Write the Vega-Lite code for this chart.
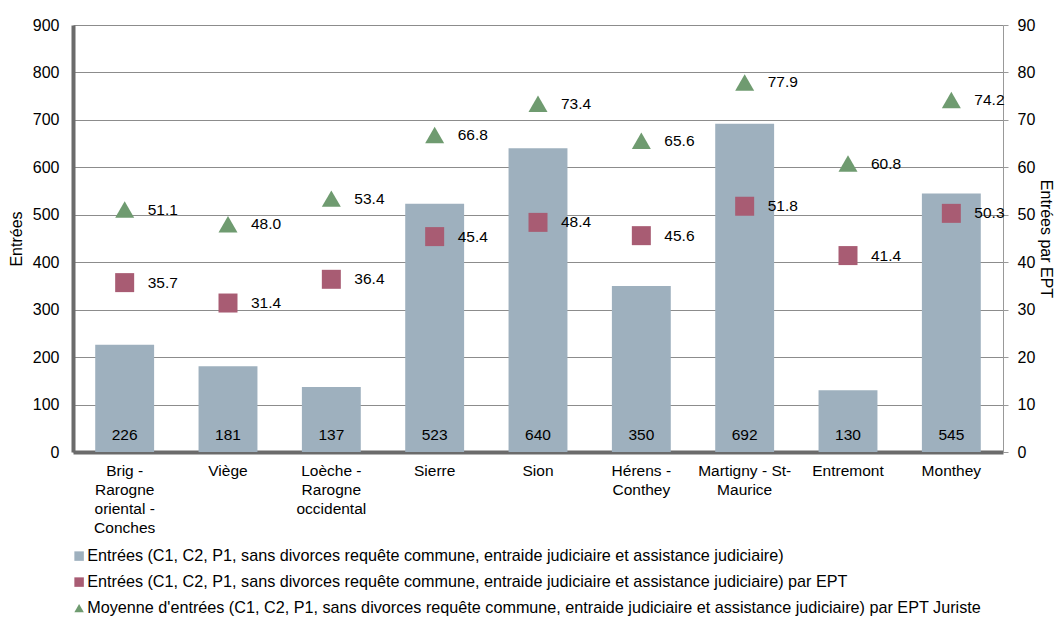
{
  "$schema": "https://vega.github.io/schema/vega-lite/v6.json",
  "width": 930,
  "height": 427,
  "autosize": {"type": "none"},
  "padding": {"left": 73, "top": 25, "right": 53, "bottom": 165},
  "background": "white",
  "config": {
    "font": "Liberation Sans",
    "view": {"stroke": null},
    "axis": {"labelFont": "Liberation Sans", "labelFontSize": 16, "labelColor": "#000000", "titleFont": "Liberation Sans", "titleFontSize": 16, "titleFontWeight": "normal", "titleColor": "#000000"},
    "legend": {"labelFont": "Liberation Sans", "labelFontSize": 16.2, "labelColor": "#000000"}
  },
  "data": {
    "values": [
      {"region": "Brig - Rarogne oriental - Conches", "series": "Entrées (C1, C2, P1, sans divorces requête commune, entraide judiciaire et assistance judiciaire)", "value": 226},
      {"region": "Viège", "series": "Entrées (C1, C2, P1, sans divorces requête commune, entraide judiciaire et assistance judiciaire)", "value": 181},
      {"region": "Loèche - Rarogne occidental", "series": "Entrées (C1, C2, P1, sans divorces requête commune, entraide judiciaire et assistance judiciaire)", "value": 137},
      {"region": "Sierre", "series": "Entrées (C1, C2, P1, sans divorces requête commune, entraide judiciaire et assistance judiciaire)", "value": 523},
      {"region": "Sion", "series": "Entrées (C1, C2, P1, sans divorces requête commune, entraide judiciaire et assistance judiciaire)", "value": 640},
      {"region": "Hérens - Conthey", "series": "Entrées (C1, C2, P1, sans divorces requête commune, entraide judiciaire et assistance judiciaire)", "value": 350},
      {"region": "Martigny - St-Maurice", "series": "Entrées (C1, C2, P1, sans divorces requête commune, entraide judiciaire et assistance judiciaire)", "value": 692},
      {"region": "Entremont", "series": "Entrées (C1, C2, P1, sans divorces requête commune, entraide judiciaire et assistance judiciaire)", "value": 130},
      {"region": "Monthey", "series": "Entrées (C1, C2, P1, sans divorces requête commune, entraide judiciaire et assistance judiciaire)", "value": 545},
      {"region": "Brig - Rarogne oriental - Conches", "series": "Entrées (C1, C2, P1, sans divorces requête commune, entraide judiciaire et assistance judiciaire) par EPT", "value": 35.7},
      {"region": "Viège", "series": "Entrées (C1, C2, P1, sans divorces requête commune, entraide judiciaire et assistance judiciaire) par EPT", "value": 31.4},
      {"region": "Loèche - Rarogne occidental", "series": "Entrées (C1, C2, P1, sans divorces requête commune, entraide judiciaire et assistance judiciaire) par EPT", "value": 36.4},
      {"region": "Sierre", "series": "Entrées (C1, C2, P1, sans divorces requête commune, entraide judiciaire et assistance judiciaire) par EPT", "value": 45.4},
      {"region": "Sion", "series": "Entrées (C1, C2, P1, sans divorces requête commune, entraide judiciaire et assistance judiciaire) par EPT", "value": 48.4},
      {"region": "Hérens - Conthey", "series": "Entrées (C1, C2, P1, sans divorces requête commune, entraide judiciaire et assistance judiciaire) par EPT", "value": 45.6},
      {"region": "Martigny - St-Maurice", "series": "Entrées (C1, C2, P1, sans divorces requête commune, entraide judiciaire et assistance judiciaire) par EPT", "value": 51.8},
      {"region": "Entremont", "series": "Entrées (C1, C2, P1, sans divorces requête commune, entraide judiciaire et assistance judiciaire) par EPT", "value": 41.4},
      {"region": "Monthey", "series": "Entrées (C1, C2, P1, sans divorces requête commune, entraide judiciaire et assistance judiciaire) par EPT", "value": 50.3},
      {"region": "Brig - Rarogne oriental - Conches", "series": "Moyenne d'entrées (C1, C2, P1, sans divorces requête commune, entraide judiciaire et assistance judiciaire) par EPT Juriste", "value": 51.1},
      {"region": "Viège", "series": "Moyenne d'entrées (C1, C2, P1, sans divorces requête commune, entraide judiciaire et assistance judiciaire) par EPT Juriste", "value": 48.0},
      {"region": "Loèche - Rarogne occidental", "series": "Moyenne d'entrées (C1, C2, P1, sans divorces requête commune, entraide judiciaire et assistance judiciaire) par EPT Juriste", "value": 53.4},
      {"region": "Sierre", "series": "Moyenne d'entrées (C1, C2, P1, sans divorces requête commune, entraide judiciaire et assistance judiciaire) par EPT Juriste", "value": 66.8},
      {"region": "Sion", "series": "Moyenne d'entrées (C1, C2, P1, sans divorces requête commune, entraide judiciaire et assistance judiciaire) par EPT Juriste", "value": 73.4},
      {"region": "Hérens - Conthey", "series": "Moyenne d'entrées (C1, C2, P1, sans divorces requête commune, entraide judiciaire et assistance judiciaire) par EPT Juriste", "value": 65.6},
      {"region": "Martigny - St-Maurice", "series": "Moyenne d'entrées (C1, C2, P1, sans divorces requête commune, entraide judiciaire et assistance judiciaire) par EPT Juriste", "value": 77.9},
      {"region": "Entremont", "series": "Moyenne d'entrées (C1, C2, P1, sans divorces requête commune, entraide judiciaire et assistance judiciaire) par EPT Juriste", "value": 60.8},
      {"region": "Monthey", "series": "Moyenne d'entrées (C1, C2, P1, sans divorces requête commune, entraide judiciaire et assistance judiciaire) par EPT Juriste", "value": 74.2}
    ]
  },
  "encoding": {
    "x": {
      "field": "region",
      "type": "nominal",
      "sort": null,
      "scale": {"paddingInner": 0.43, "paddingOuter": 0.215},
      "axis": {
        "title": null,
        "labelAngle": 0,
        "labelFontSize": 15.5,
        "ticks": false,
        "domainColor": "#6b6b6b",
        "domainWidth": 4,
        "labelPadding": 11,
        "labelLineHeight": 19,
        "labelBaseline": "top",
        "labelExpr": "datum.label == 'Brig - Rarogne oriental - Conches' ? ['Brig -', 'Rarogne', 'oriental -', 'Conches'] : datum.label == 'Loèche - Rarogne occidental' ? ['Loèche -', 'Rarogne', 'occidental'] : datum.label == 'Hérens - Conthey' ? ['Hérens -', 'Conthey'] : datum.label == 'Martigny - St-Maurice' ? ['Martigny - St-', 'Maurice'] : datum.label"
      }
    }
  },
  "layer": [
    {
      "transform": [{"filter": "indexof(datum.series, 'par EPT') < 0"}],
      "layer": [
        {
          "mark": {"type": "bar"},
          "encoding": {
            "y": {
              "field": "value",
              "type": "quantitative",
              "scale": {"domain": [0, 900], "nice": false},
              "axis": {
                "title": "Entrées",
                "values": [0, 100, 200, 300, 400, 500, 600, 700, 800, 900],
                "ticks": false,
                "labelPadding": 14,
                "domainColor": "#6b6b6b",
                "domainWidth": 4,
                "grid": true,
                "gridColor": "#8c8c8c",
                "gridWidth": 1,
                "titlePadding": 8
              }
            },
            "color": {
              "field": "series",
              "type": "nominal",
              "scale": {
                "domain": [
                  "Entrées (C1, C2, P1, sans divorces requête commune, entraide judiciaire et assistance judiciaire)",
                  "Entrées (C1, C2, P1, sans divorces requête commune, entraide judiciaire et assistance judiciaire) par EPT",
                  "Moyenne d'entrées (C1, C2, P1, sans divorces requête commune, entraide judiciaire et assistance judiciaire) par EPT Juriste"
                ],
                "range": ["#9eb0be", "#a85c73", "#6f9b70"]
              },
              "legend": {
                "title": null,
                "orient": "none",
                "legendX": -2,
                "legendY": 523,
                "direction": "vertical",
                "padding": 0,
                "symbolSize": 90,
                "symbolStrokeWidth": 0,
                "labelOffset": 0,
                "rowPadding": 9,
                "labelLimit": 1000
              }
            }
          }
        },
        {
          "mark": {"type": "text", "fontSize": 15.5, "font": "Liberation Sans", "color": "#000000", "baseline": "middle", "dy": -17},
          "encoding": {
            "y": {
              "datum": 0,
              "type": "quantitative",
              "axis": {
                "title": "Entrées",
                "values": [0, 100, 200, 300, 400, 500, 600, 700, 800, 900],
                "ticks": false,
                "labelPadding": 14,
                "domainColor": "#6b6b6b",
                "domainWidth": 4,
                "grid": true,
                "gridColor": "#8c8c8c",
                "gridWidth": 1,
                "titlePadding": 8
              }
            },
            "text": {"field": "value", "type": "quantitative", "format": "d"}
          }
        }
      ]
    },
    {
      "transform": [{"filter": "indexof(datum.series, 'par EPT') >= 0"}],
      "encoding": {
        "y": {
          "field": "value",
          "type": "quantitative",
          "scale": {"domain": [0, 90], "nice": false},
          "axis": {
            "title": "Entrées par EPT",
            "orient": "right",
            "values": [0, 10, 20, 30, 40, 50, 60, 70, 80, 90],
            "grid": false,
            "ticks": true,
            "tickSize": 5,
            "tickColor": "#999999",
            "domainColor": "#999999",
            "domainWidth": 1,
            "labelPadding": 9,
            "titlePadding": 3
          }
        }
      },
      "layer": [
        {
          "mark": {"type": "point", "filled": true, "opacity": 1, "size": 361},
          "encoding": {
            "color": {"field": "series", "type": "nominal"},
            "shape": {
              "field": "series",
              "type": "nominal",
              "scale": {
                "domain": [
                  "Entrées (C1, C2, P1, sans divorces requête commune, entraide judiciaire et assistance judiciaire)",
                  "Entrées (C1, C2, P1, sans divorces requête commune, entraide judiciaire et assistance judiciaire) par EPT",
                  "Moyenne d'entrées (C1, C2, P1, sans divorces requête commune, entraide judiciaire et assistance judiciaire) par EPT Juriste"
                ],
                "range": ["square", "square", "triangle-up"]
              },
              "legend": {
                "title": null,
                "orient": "none",
                "legendX": -2,
                "legendY": 523,
                "direction": "vertical",
                "padding": 0,
                "symbolSize": 90,
                "symbolStrokeWidth": 0,
                "labelOffset": 0,
                "rowPadding": 9,
                "labelLimit": 1000
              }
            }
          }
        },
        {
          "mark": {"type": "text", "fontSize": 15.5, "font": "Liberation Sans", "color": "#000000", "align": "left", "baseline": "middle", "dx": 23},
          "encoding": {
            "text": {"field": "value", "type": "quantitative", "format": ".1f"}
          }
        }
      ]
    }
  ],
  "resolve": {"scale": {"y": "independent"}}
}
